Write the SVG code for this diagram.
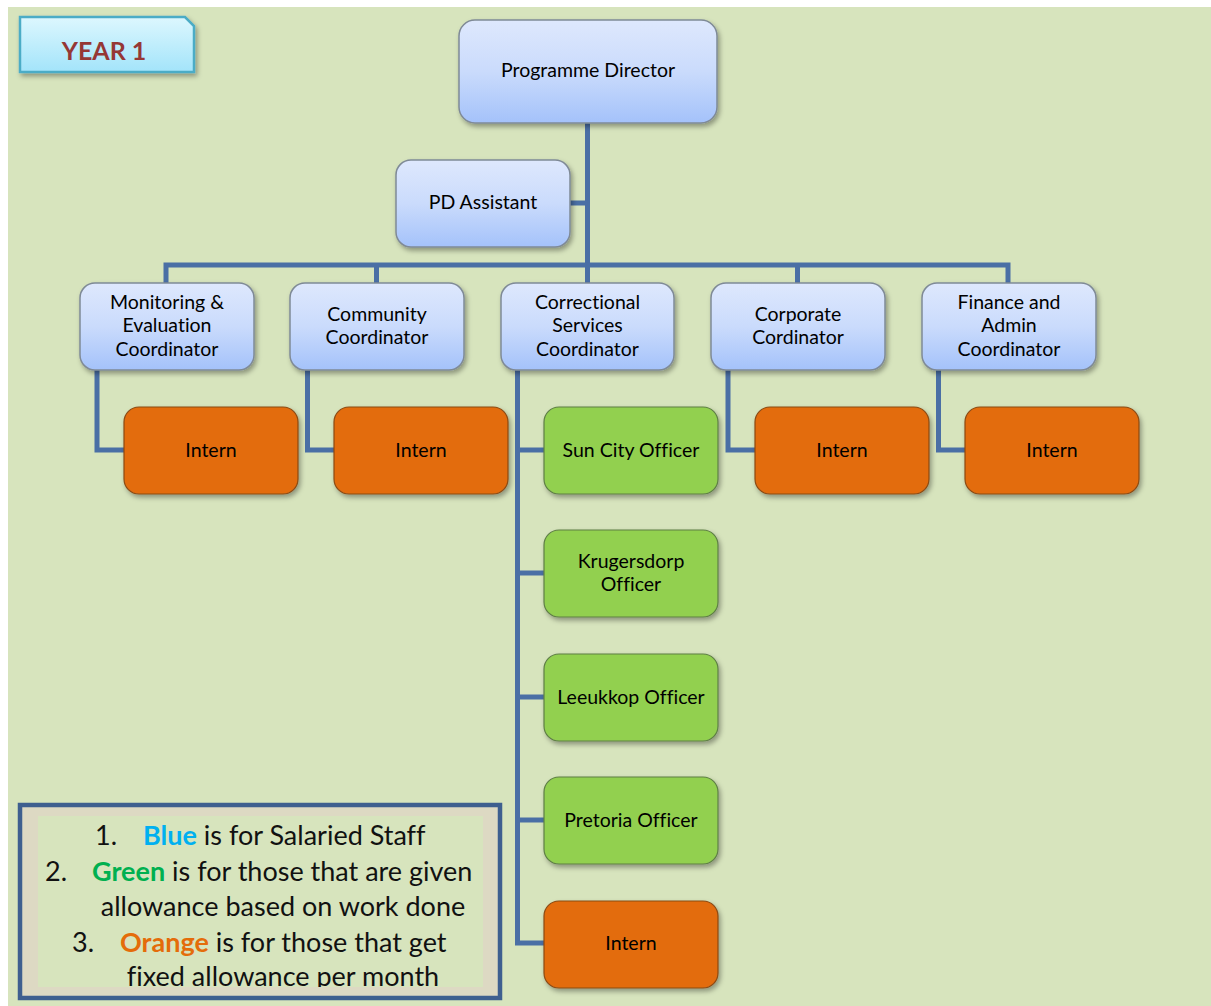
<svg xmlns="http://www.w3.org/2000/svg" width="1211" height="1006" viewBox="0 0 1211 1006">
<defs>
  <linearGradient id="gBlue" x1="0" y1="0" x2="0" y2="1">
    <stop offset="0" stop-color="#DEE8FD"/>
    <stop offset="0.5" stop-color="#CADBFC"/>
    <stop offset="1" stop-color="#A4C2FA"/>
  </linearGradient>
  <linearGradient id="gCyan" x1="0" y1="0" x2="0" y2="1">
    <stop offset="0" stop-color="#DDF7FE"/>
    <stop offset="1" stop-color="#A3E4FA"/>
  </linearGradient>
  <filter id="sh" x="-10%" y="-10%" width="125%" height="130%">
    <feDropShadow dx="2" dy="3" stdDeviation="2.5" flood-color="#000" flood-opacity="0.35"/>
  </filter>
  <clipPath id="legClip"><rect x="38" y="816" width="445" height="171"/></clipPath>
</defs>
<style>
  text { font-variant-ligatures: none; }
  .blue { fill: url(#gBlue); stroke: #7F8A96; stroke-width: 1.5; filter: url(#sh); }
  .orange { fill: #E36C09; stroke: #8A4A14; stroke-width: 1.2; filter: url(#sh); }
  .green { fill: #92D050; stroke: #5E7E45; stroke-width: 1.2; filter: url(#sh); }
  .t { font-family: Lato, "Liberation Sans", sans-serif; font-size: 19.5px; fill: #000; text-anchor: middle; }
  .conn { fill: none; stroke: #4A6FA5; stroke-width: 5; stroke-linejoin: miter; }
  .leg { font-family: Lato, "Liberation Sans", sans-serif; font-size: 27px; fill: #111; }
</style>

<rect x="0" y="0" width="1211" height="1006" fill="#FFFFFF"/>
<rect x="8" y="7" width="1203" height="999" fill="#D7E4BD"/>

<g id="connectors">
  <path class="conn" d="M587.5 123 V265"/>
  <path class="conn" d="M570 203 H587.5"/>
  <path class="conn" d="M166 283 V265 H1008 V283"/>
  <path class="conn" d="M376.5 265 V283"/>
  <path class="conn" d="M797.5 265 V283"/>
  <path class="conn" d="M587.5 265 V283"/>
  <path class="conn" d="M97 370 V450 H124"/>
  <path class="conn" d="M307.5 370 V450 H334"/>
  <path class="conn" d="M728 370 V450 H755"/>
  <path class="conn" d="M938.5 370 V450 H965"/>
  <path class="conn" d="M517.5 370 V943 H544"/>
  <path class="conn" d="M517.5 450 H544"/>
  <path class="conn" d="M517.5 573 H544"/>
  <path class="conn" d="M517.5 697 H544"/>
  <path class="conn" d="M517.5 820 H544"/>
</g>

<g id="year1">
  <path d="M20 17 H185 L194 26 V72 H20 Z" fill="url(#gCyan)" stroke="#4BACC6" stroke-width="2.5" filter="url(#sh)"/>
  <text x="104" y="60" font-family="Lato, 'Liberation Sans', sans-serif" font-size="25" font-weight="bold" fill="#953735" text-anchor="middle">YEAR 1</text>
</g>

<g id="programme-director">
  <rect class="blue" x="459" y="20" width="258" height="103" rx="16"/>
  <text class="t" x="588" y="77">Programme Director</text>
</g>

<g id="pd-assistant">
  <rect class="blue" x="396" y="160" width="174" height="87" rx="15"/>
  <text class="t" x="483" y="209">PD Assistant</text>
</g>

<g id="me-coordinator">
  <rect class="blue" x="80" y="283" width="174" height="87" rx="15"/>
  <text class="t" x="167" y="309">Monitoring &amp;</text>
  <text class="t" x="167" y="332">Evaluation</text>
  <text class="t" x="167" y="356">Coordinator</text>
</g>

<g id="community-coordinator">
  <rect class="blue" x="290" y="283" width="174" height="87" rx="15"/>
  <text class="t" x="377" y="321">Community</text>
  <text class="t" x="377" y="344">Coordinator</text>
</g>

<g id="correctional-coordinator">
  <rect class="blue" x="501" y="283" width="173" height="87" rx="15"/>
  <text class="t" x="587.5" y="309">Correctional</text>
  <text class="t" x="587.5" y="332">Services</text>
  <text class="t" x="587.5" y="356">Coordinator</text>
</g>

<g id="corporate-coordinator">
  <rect class="blue" x="711" y="283" width="174" height="87" rx="15"/>
  <text class="t" x="798" y="321">Corporate</text>
  <text class="t" x="798" y="344">Cordinator</text>
</g>

<g id="finance-coordinator">
  <rect class="blue" x="922" y="283" width="174" height="87" rx="15"/>
  <text class="t" x="1009" y="309">Finance and</text>
  <text class="t" x="1009" y="332">Admin</text>
  <text class="t" x="1009" y="356">Coordinator</text>
</g>

<g id="intern-me">
  <rect class="orange" x="124" y="407" width="174" height="87" rx="15"/>
  <text class="t" x="211" y="457">Intern</text>
</g>

<g id="intern-community">
  <rect class="orange" x="334" y="407" width="174" height="87" rx="15"/>
  <text class="t" x="421" y="457">Intern</text>
</g>

<g id="intern-corporate">
  <rect class="orange" x="755" y="407" width="174" height="87" rx="15"/>
  <text class="t" x="842" y="457">Intern</text>
</g>

<g id="intern-finance">
  <rect class="orange" x="965" y="407" width="174" height="87" rx="15"/>
  <text class="t" x="1052" y="457">Intern</text>
</g>

<g id="sun-city-officer">
  <rect class="green" x="544" y="407" width="174" height="87" rx="15"/>
  <text class="t" x="631" y="457">Sun City Officer</text>
</g>

<g id="krugersdorp-officer">
  <rect class="green" x="544" y="530" width="174" height="87" rx="15"/>
  <text class="t" x="631" y="568">Krugersdorp</text>
  <text class="t" x="631" y="591">Officer</text>
</g>

<g id="leeukkop-officer">
  <rect class="green" x="544" y="654" width="174" height="87" rx="15"/>
  <text class="t" x="631" y="704">Leeukkop Officer</text>
</g>

<g id="pretoria-officer">
  <rect class="green" x="544" y="777" width="174" height="87" rx="15"/>
  <text class="t" x="631" y="827">Pretoria Officer</text>
</g>

<g id="intern-correctional">
  <rect class="orange" x="544" y="901" width="174" height="87" rx="15"/>
  <text class="t" x="631" y="950">Intern</text>
</g>

<g id="legend">
  <rect x="20" y="805" width="480" height="193" fill="#DDD9C3" stroke="#3E5F8F" stroke-width="4.5"/>
  <rect x="38" y="816" width="445" height="171" fill="#D7E4BD"/>
  <g clip-path="url(#legClip)">
    <text class="leg" x="95" y="845">1.</text>
    <text class="leg" x="143" y="845"><tspan font-weight="bold" fill="#00B0F0">Blue</tspan> is for Salaried Staff</text>
    <text class="leg" x="45" y="881">2.</text>
    <text class="leg" x="92" y="881"><tspan font-weight="bold" fill="#00B050">Green</tspan> is for those that are given</text>
    <text class="leg" x="283" y="916" text-anchor="middle">allowance based on work done</text>
    <text class="leg" x="72" y="952">3.</text>
    <text class="leg" x="120" y="952"><tspan font-weight="bold" fill="#E46C0A">Orange</tspan> is for those that get</text>
    <text class="leg" x="283" y="986" text-anchor="middle">fixed allowance per month</text>
  </g>
</g>
</svg>
